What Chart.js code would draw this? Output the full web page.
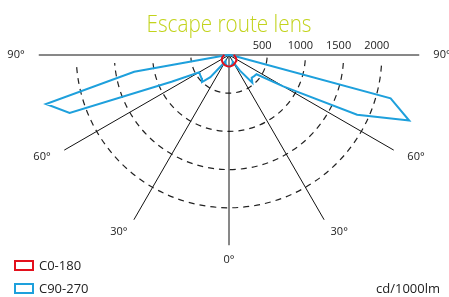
<!DOCTYPE html>
<html>
<head>
<meta charset="utf-8">
<script src="https://cdn.jsdelivr.net/npm/chart.js@4.4.0/dist/chart.umd.min.js"></script>
<style>
  html, body { margin: 0; padding: 0; background: #fff; }
  canvas { display: block; }
</style>
</head>
<body>
<canvas id="polarChart" width="449" height="297"></canvas>
<script>
// gamma = angle from nadir in degrees, negative values are the left half
let c0Angles = [-90, -80, -70, -60, -50, -40, -30, -20, -10, 0, 10, 20, 30, 40, 50, 60, 70, 80, 90];
let c0Values = [60, 75, 95, 110, 120, 130, 138, 145, 148, 150, 148, 145, 138, 130, 120, 110, 95, 75, 60];

let c90Angles = [-90, -85, -80, -75, -70, -65, -60, -55, -50, -45, -40, -35, -30, -25, -20, -15, -10, -5, 0,
                 5, 10, 15, 20, 25, 30, 35, 40, 45, 50, 55, 60, 65, 70, 75, 80, 85, 90];
let c90Values = [0, 60, 1260, 2480, 2220, 830, 450, 460, 470, 500, 380, 160, 90, 110, 125, 135, 145, 150, 150,
                 150, 145, 135, 125, 110, 100, 250, 475, 420, 430, 440, 820, 1850, 2510, 2190, 60, 30, 0];

let seriesLabels = ['C0-180', 'C90-270'];
let seriesColors = ['#e3101c', '#1ea0dc'];

let ringValues = [500, 1000, 1500, 2000];
let ringLabels = ['500', '1000', '1500', '2000'];
let spokeAngles = [-90, -60, -30, 0, 30, 60, 90];
let spokeLabels = ['90°', '60°', '30°', '0°', '30°', '60°', '90°'];

let chartTitle = 'Escape route lens';
let unitLabel = 'cd/1000lm';

// pixel layout of the diagram
const cdPerPx = 500 / 38.2;
const centerX = 229, centerY = 55;
const spokeLength = 2490;
// where each angle label sits: [angle, radius in px], matched to the spoke order
const labelSpots = [[-90, 213], [-61.4, 213], [-32, 208], [0, 205], [32, 208], [61.4, 213], [90, 213]];

function toXY(angles, values) {
    return angles.map((g, i) => {
        const a = g * Math.PI / 180;
        return { x: values[i] * Math.sin(a), y: -values[i] * Math.cos(a) };
    });
}

const polarGrid = {
    id: 'polarGrid',
    beforeDatasetsDraw(chart) {
        const ctx = chart.ctx;
        const xs = chart.scales.x, ys = chart.scales.y;
        const toPx = (g, v) => {
            const a = g * Math.PI / 180;
            return [xs.getPixelForValue(v * Math.sin(a)), ys.getPixelForValue(-v * Math.cos(a))];
        };
        const [cx, cy] = toPx(0, 0);
        ctx.save();

        // dashed rings
        ctx.strokeStyle = '#222';
        ctx.lineWidth = 1.2;
        ctx.setLineDash([6, 5]);
        ringValues.forEach(v => {
            const r = xs.getPixelForValue(v) - cx;
            ctx.beginPath();
            ctx.arc(cx, cy, r, 4 * Math.PI / 180, 176 * Math.PI / 180);
            ctx.stroke();
        });

        // spokes
        ctx.setLineDash([]);
        ctx.lineWidth = 1;
        ctx.strokeStyle = '#111';
        const [lx, ly] = toPx(-90, spokeLength);
        const [rx, ry] = toPx(90, spokeLength);
        ctx.beginPath();
        ctx.moveTo(lx, ly);
        ctx.lineTo(rx, ry);
        ctx.stroke();
        spokeAngles.filter(g => Math.abs(g) < 90).forEach(g => {
            const [px, py] = toPx(g, spokeLength);
            ctx.beginPath();
            ctx.moveTo(cx, cy);
            ctx.lineTo(px, py);
            ctx.stroke();
        });
        ctx.restore();
    },
    afterDraw(chart) {
        const ctx = chart.ctx;
        const xs = chart.scales.x, ys = chart.scales.y;
        const cx = xs.getPixelForValue(0), cy = ys.getPixelForValue(0);
        ctx.save();

        // title, squeezed to the narrow face of the original
        ctx.fillStyle = '#c2d31c';
        ctx.font = '300 24px "Open Sans"';
        ctx.textAlign = 'center';
        ctx.textBaseline = 'alphabetic';
        const w = ctx.measureText(chartTitle).width;
        ctx.translate(cx, 32);
        ctx.scale(165 / w, 1);
        ctx.fillText(chartTitle, 0, 0);
        ctx.setTransform(1, 0, 0, 1, 0, 0);

        // ring values
        ctx.fillStyle = '#222';
        ctx.font = '11px "Open Sans"';
        ctx.textBaseline = 'middle';
        ringValues.forEach((v, i) => {
            ctx.fillText(ringLabels[i], xs.getPixelForValue(v) - 5, cy - 9);
        });

        // angle labels
        spokeLabels.forEach((t, i) => {
            const a = labelSpots[i][0] * Math.PI / 180;
            const r = labelSpots[i][1];
            ctx.fillText(t, cx + r * Math.sin(a), cy + r * Math.cos(a));
        });

        // legend
        ctx.font = '13px "Open Sans"';
        ctx.textAlign = 'left';
        ctx.lineWidth = 2;
        chart.data.datasets.forEach((ds, i) => {
            const top = 261 + i * 23;
            ctx.strokeStyle = ds.borderColor;
            ctx.strokeRect(15, top, 18, 9);
            ctx.fillStyle = '#222';
            ctx.fillText(ds.label, 39, top + 5);
        });

        ctx.textAlign = 'right';
        ctx.fillText(unitLabel, 440, 289);
        ctx.restore();
    }
};

new Chart(document.getElementById('polarChart'), {
    type: 'scatter',
    data: {
        datasets: [{
            label: seriesLabels[0],
            data: toXY(c0Angles, c0Values),
            borderColor: seriesColors[0],
            borderWidth: 2
        }, {
            label: seriesLabels[1],
            data: toXY(c90Angles, c90Values),
            borderColor: seriesColors[1],
            borderWidth: 2
        }]
    },
    options: {
        responsive: false,
        animation: false,
        layout: { padding: 0 },
        datasets: {
            scatter: { showLine: true, pointRadius: 0, fill: false, clip: false, tension: 0 }
        },
        scales: {
            x: { type: 'linear', display: false, min: -centerX * cdPerPx, max: (449 - centerX) * cdPerPx },
            y: { type: 'linear', display: false, min: -(297 - centerY) * cdPerPx, max: centerY * cdPerPx }
        },
        plugins: {
            legend: { display: false },
            tooltip: { enabled: false }
        }
    },
    plugins: [polarGrid]
});
</script>
</body>
</html>
